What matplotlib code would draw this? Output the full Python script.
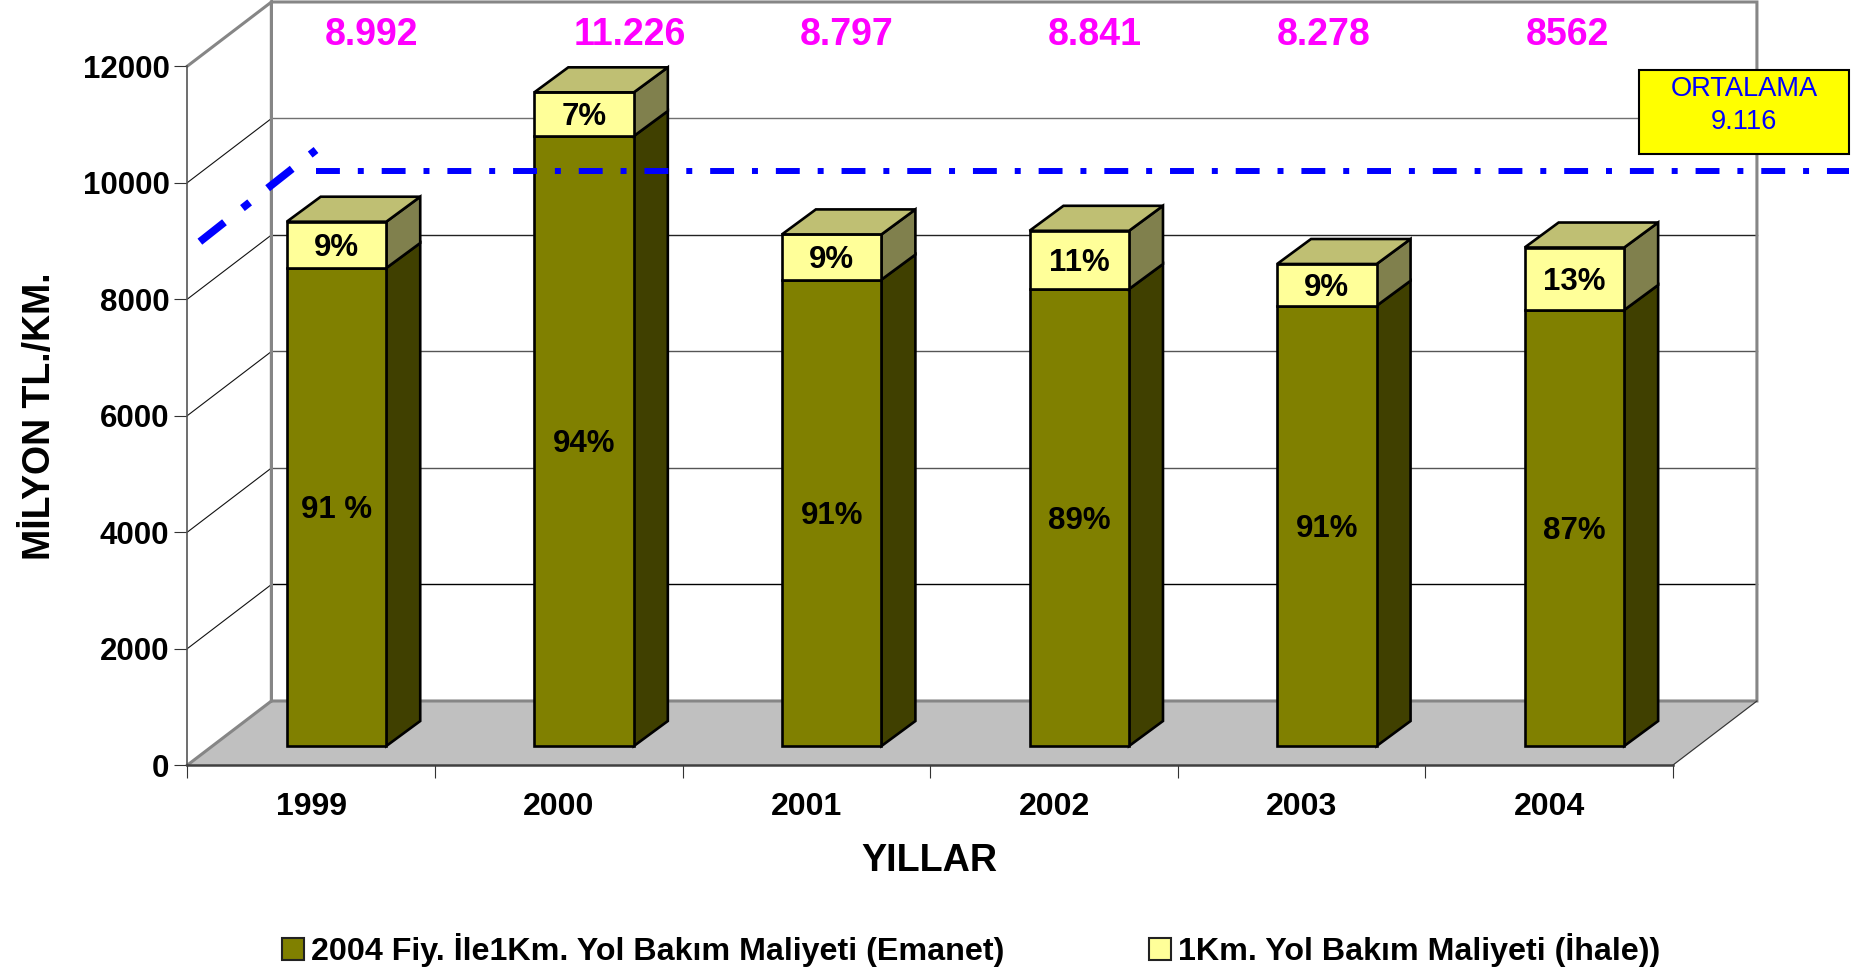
import matplotlib
matplotlib.use('Agg')
import matplotlib.pyplot as plt
from matplotlib.patches import Rectangle

plt.rcParams['font.family'] = ['Liberation Sans', 'DejaVu Sans']

years = ['1999', '2000', '2001', '2002', '2003', '2004']
emanet = [8206, 10472, 8007, 7845, 7558, 7485]
ihale = [795, 750, 776, 1000, 717, 1073]
emanet_pct = ['91 %', '94%', '91%', '89%', '91%', '87%']
ihale_pct = ['9%', '7%', '9%', '11%', '9%', '13%']
totals = ['8.992', '11.226', '8.797', '8.841', '8.278', '8562']
total_x = [0.743, 1.788, 2.663, 3.663, 4.59, 5.573]
y_ticks = [0, 2000, 4000, 6000, 8000, 10000, 12000]
grid_vals = [2000, 4000, 6000, 8000, 10000]
grid_cols = ['#000000', '#555555', '#555555', '#222222', '#707070']
avg_level = 9090
avg_x = [0.519, 6.712]
rise_x = [0.05, 0.519]
rise_y = [8984, 10558]

# depth of the fake 3d box, in data units
wall_dx, wall_dy = 0.339, 1099
bar_dx, bar_dy = 0.137, 429
bar_off, bar_w, base_y = 0.401, 0.402, 326

OLIVE, OLIVE_SIDE = '#808000', '#404000'
PALE, PALE_SIDE, PALE_TOP = '#FFFF99', '#80804D', '#BFBF73'
GREY = '#868686'

W, H = 1865, 972
fig = plt.figure(figsize=(W / 100, H / 100), dpi=100)
ax = fig.add_axes([187.5 / W, (H - 765) / H, 1485.5 / W, 699 / H])
ax.set_xlim(0, 6)
ax.set_ylim(0, 12000)

# floor and walls
ax.fill([0, 6, 6 + wall_dx, wall_dx], [0, 0, wall_dy, wall_dy], color='#C0C0C0', clip_on=False, zorder=1)
ax.plot([6, 6 + wall_dx], [0, wall_dy], color='#333333', lw=0.8, clip_on=False, zorder=1.5)
for v, c in zip(grid_vals, grid_cols):
    ax.plot([wall_dx, 6 + wall_dx], [v + wall_dy] * 2, color=c, lw=1.0, clip_on=False, zorder=1.2)
    ax.plot([0, wall_dx], [v, v + wall_dy], color='#111111', lw=0.8, clip_on=False, zorder=1.2)
ax.plot([0, wall_dx, wall_dx, 6 + wall_dx, 6 + wall_dx, wall_dx, wall_dx, 0],
        [12000, 12000 + wall_dy, wall_dy, wall_dy, 12000 + wall_dy, 12000 + wall_dy, wall_dy, 0],
        color=GREY, lw=2.2, clip_on=False, zorder=1.4, solid_joinstyle='miter')


def box(x, y0, y1, front, side, top=None):
    kw = dict(edgecolor='black', lw=1.9, clip_on=False, zorder=3, joinstyle='miter')
    x1 = x + bar_w
    ax.fill([x1, x1 + bar_dx, x1 + bar_dx, x1], [y0, y0 + bar_dy, y1 + bar_dy, y1], facecolor=side, **kw)
    ax.fill([x, x1, x1, x], [y0, y0, y1, y1], facecolor=front, **kw)
    if top:
        ax.fill([x, x1, x1 + bar_dx, x + bar_dx], [y1, y1, y1 + bar_dy, y1 + bar_dy], facecolor=top, **kw)


for i in range(len(years)):
    x = i + bar_off
    low = base_y + emanet[i]
    up = low + ihale[i]
    box(x, base_y, low, OLIVE, OLIVE_SIDE)
    box(x, low, up, PALE, PALE_SIDE, PALE_TOP)
    # -55 because the text sits a bit under the middle of the segment
    ax.text(x + bar_w / 2, (base_y + low) / 2 - 55, emanet_pct[i], ha='center', va='center',
            fontsize=22.5, fontweight='bold', zorder=5)
    ax.text(x + bar_w / 2, (low + up) / 2 - 55, ihale_pct[i], ha='center', va='center',
            fontsize=22.5, fontweight='bold', zorder=5)
    ax.text(total_x[i], 12540, totals[i], ha='center', va='center', color='#FF00FF',
            fontsize=27, fontweight='bold', zorder=5, clip_on=False)

# average line, flat along the back wall plus the rising bit on the left
ax.plot(avg_x, [avg_level + wall_dy] * 2, color='#0000FF', lw=4.3, clip_on=False, zorder=4,
        dashes=(4, 3, 1, 3), dash_capstyle='butt')
ax.plot(rise_x, rise_y, color='#0000FF', lw=5.5, clip_on=False, zorder=4,
        dashes=(4.1, 3, 1.2, 3), dash_capstyle='butt')

# ORTALAMA box
box_ax = fig.add_axes([0, 0, 1, 1], frameon=False)
box_ax.set_xlim(0, W)
box_ax.set_ylim(H, 0)
box_ax.axis('off')
box_ax.add_patch(Rectangle((1639.3, 70.3), 210, 83.4, facecolor='#FFFF00', edgecolor='black', lw=1.5))
box_ax.text(1744, 89.5, 'ORTALAMA', color='#0000FF', fontsize=19.6, ha='center', va='center')
box_ax.text(1744, 122, '9.116', color='#0000FF', fontsize=19.6, ha='center', va='center')

# axes
for s in ['top', 'right']:
    ax.spines[s].set_visible(False)
ax.spines['left'].set_color('#555555')
ax.spines['left'].set_linewidth(1.2)
ax.spines['bottom'].set_color('#404040')
ax.spines['bottom'].set_linewidth(1.8)
ax.spines['left'].set_zorder(2)
ax.spines['bottom'].set_zorder(2)
ax.set_yticks(y_ticks)
ax.set_yticklabels([str(v) for v in y_ticks], fontsize=22.5, fontweight='bold')
ax.tick_params(axis='y', length=9.4, width=0.8, color='#333333', pad=3.6)
ax.set_xticks(range(7))
ax.set_xticklabels([])
ax.tick_params(axis='x', which='major', length=9, width=0.8, color='#333333')
ax.set_xticks([i + 0.5 for i in range(6)], minor=True)
ax.set_xticklabels(years, minor=True, fontsize=23, fontweight='bold')
ax.tick_params(axis='x', which='minor', length=0, pad=19.5)

fig.text(40 / W, 1 - 416 / H, 'MİLYON TL./KM.', rotation=90, ha='center', va='center',
         fontsize=27, fontweight='bold')
fig.text(929.5 / W, 1 - 861 / H, 'YILLAR', ha='center', va='center', fontsize=27.2, fontweight='bold')

h1 = Rectangle((0, 0), 1, 1, facecolor=OLIVE, edgecolor='#222222', lw=1.5)
h2 = Rectangle((0, 0), 1, 1, facecolor=PALE, edgecolor='#222222', lw=1.5)
fig.legend([h1, h2], ['2004 Fiy. İle1Km. Yol Bakım Maliyeti (Emanet)', '1Km. Yol Bakım Maliyeti (İhale))'],
           loc='center left', bbox_to_anchor=(282 / W, 1 - 950 / H), ncol=2, frameon=False,
           prop={'size': 23.2, 'weight': 'bold'}, handlelength=0.68, handleheight=0.68,
           handletextpad=0.22, columnspacing=4.5, borderpad=0, borderaxespad=0)

fig.savefig('out.png', dpi=100)
